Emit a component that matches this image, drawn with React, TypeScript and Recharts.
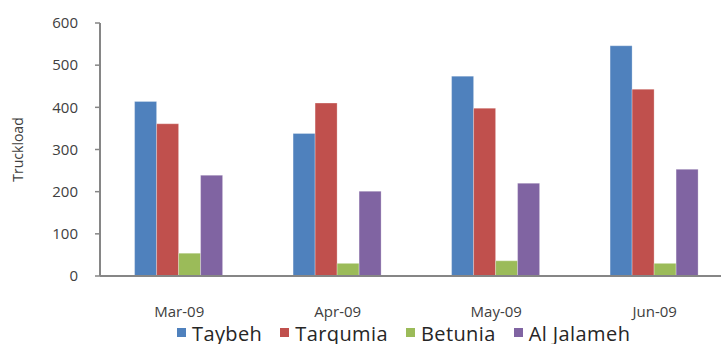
import React from 'react';
import { BarChart, Bar, XAxis, YAxis, Legend } from 'recharts';

// Monthly truckloads by crossing point
const months = ['Mar-09', 'Apr-09', 'May-09', 'Jun-09'];
const taybeh = [414, 338, 474, 546];
const tarqumia = [361, 410, 398, 443];
const betunia = [54, 30, 36, 30];
const alJalameh = [239, 201, 220, 253];
const yTicks = [0, 100, 200, 300, 400, 500, 600];

const series = [
  { key: 'Taybeh', values: taybeh, color: '#4F81BD' },
  { key: 'Tarqumia', values: tarqumia, color: '#C0504D' },
  { key: 'Betunia', values: betunia, color: '#9BBB59' },
  { key: 'Al Jalameh', values: alJalameh, color: '#8064A2' },
];

const data = months.map((month, i) => {
  const row: Record<string, string | number> = { month };
  series.forEach((s) => {
    row[s.key] = s.values[i];
  });
  return row;
});

const FONT = '"Open Sans", "DejaVu Sans", sans-serif';
const AXIS_COLOR = '#868686';

const LegendContent = () => (
  <div
    style={{
      display: 'flex',
      justifyContent: 'flex-start',
      alignItems: 'center',
      paddingLeft: 177,
      height: 20,
      fontFamily: FONT,
      fontSize: 20,
      color: '#262626',
      letterSpacing: 0.4,
    }}
  >
    {series.map((s) => (
      <div key={s.key} style={{ display: 'flex', alignItems: 'center', marginRight: 18 }}>
        <span style={{ display: 'inline-block', width: 9, height: 9, background: s.color, marginRight: 6, marginTop: -4 }} />
        <span style={{ lineHeight: '20px' }}>{s.key}</span>
      </div>
    ))}
  </div>
);

export default function App() {
  return (
    <div style={{ position: 'absolute', left: 0, top: 0, width: 721, height: 344, overflow: 'hidden', background: '#fff' }}>
      <BarChart
        width={734}
        height={344}
        data={data}
        margin={{ top: 23, right: 0, bottom: 0, left: 0 }}
        barGap={0}
        barCategoryGap={34.6}
      >
        <XAxis
          dataKey="month"
          height={48}
          axisLine={{ stroke: AXIS_COLOR, strokeWidth: 2 }}
          tickLine={false}
          tickSize={0}
          tickMargin={30}
          tick={{ fill: '#404040', fontSize: 15, fontFamily: FONT }}
        />
        <YAxis
          width={100}
          domain={[0, 600]}
          ticks={yTicks}
          interval={0}
          axisLine={{ stroke: AXIS_COLOR, strokeWidth: 2 }}
          tickLine={{ stroke: AXIS_COLOR, strokeWidth: 1.5 }}
          tickSize={5}
          tickMargin={17}
          tick={{ fill: '#404040', fontSize: 15, fontFamily: FONT }}
          label={{
            value: 'Truckload',
            angle: -90,
            position: 'insideLeft',
            offset: 18,
            style: { fill: '#404040', fontSize: 14, fontFamily: FONT, textAnchor: 'middle' },
          }}
        />
        <Legend verticalAlign="bottom" align="left" height={20} content={<LegendContent />} />
        {series.map((s) => (
          <Bar
            key={s.key}
            dataKey={s.key}
            fill={s.color}
            stroke="rgba(255,255,255,0.45)"
            strokeWidth={0.6}
            isAnimationActive={false}
          />
        ))}
      </BarChart>
    </div>
  );
}
